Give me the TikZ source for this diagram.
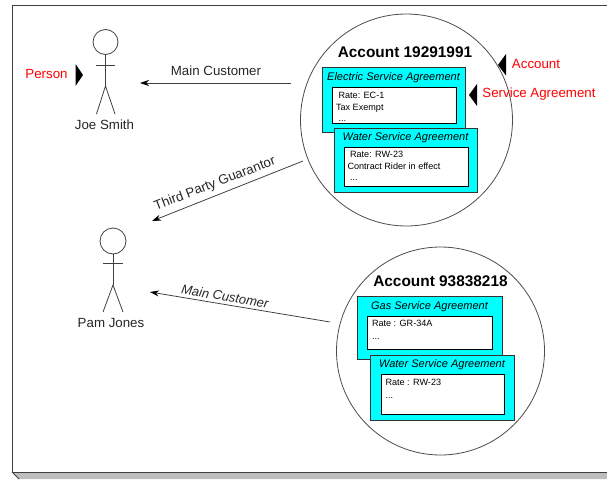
\documentclass[tikz,border=0pt]{standalone}
\usepackage{fontspec}
\setmainfont{Liberation Sans}
\usepackage{tikz}
\definecolor{agrcyan}{RGB}{0,255,255}
\definecolor{framegray}{RGB}{190,190,190}
\usetikzlibrary{arrows.meta}
\usetikzlibrary{positioning}
\usetikzlibrary{calc}

\begin{document}
\begin{tikzpicture}[x=1pt,y=-1pt]
        \tikzset{every node/.style={inner sep=0pt, outer sep=0pt},
                >={Stealth[black,length=9pt,width=6pt]},
                acct/.style={circle, draw=black!70, line width=.8pt, minimum size=#1},
                agrbox/.style={draw=black!80, line width=.9pt, fill=agrcyan, anchor=north west},
                ratebox/.style={draw=black, line width=.9pt, fill=white, anchor=north west},
                limb/.style={draw=black!75, line width=.8pt},
                conn/.style={draw=black!75, line width=.8pt, ->},
                lbl/.style={font=\fontsize{13.3}{15}\selectfont, text=black!85},
                title/.style={font=\bfseries\fontsize{15.4}{17}\selectfont},
                agrtitle/.style={font=\itshape\fontsize{11}{13}\selectfont},
                body/.style={font=\fontsize{9.1}{11.5}\selectfont, align=left, anchor=north west},
                redlbl/.style={font=\fontsize{13.3}{15}\selectfont, text=red},
                marker/.style={fill=black}}

        \useasboundingbox (0,0) rectangle (607,479);

        % page with its shadow
        \fill[framegray] (12,472) -- (19,479) -- (607,479) -- (607,472) -- cycle;
        \draw[black!75, line width=1pt] (607,5.5) -- (12,5.5) -- (12,472) -- (607,472);
        \draw[black!75, line width=.8pt] (12,472) -- (19,479);

        % people
        \node[circle, limb, minimum size=25pt] (joehead) at (105.5,42) {};
        \coordinate (joehip) at (105.5,86);
        \coordinate (joefootl) at (96.5,114);
        \coordinate (joefootr) at (115,114);
        \draw[limb] (joehead.south) -- (joehip);
        \draw[limb] (95.5,65) -- (115,65);
        \draw[limb] (joefootl) -- (joehip) -- (joefootr);
        \node[lbl] (joe) at (104.5,124.5) {Joe Smith};

        \node[circle, limb, minimum size=26pt] (pamhead) at (113,241) {};
        \coordinate (pamhip) at (113,285);
        \coordinate (pamfootl) at (103,312);
        \coordinate (pamfootr) at (123,312);
        \draw[limb] (pamhead.south) -- (pamhip);
        \draw[limb] (102.5,263.5) -- (122.5,263.5);
        \draw[limb] (pamfootl) -- (pamhip) -- (pamfootr);
        \node[lbl] (pam) at (111,323) {Pam Jones};

        % accounts
        \node[acct=212pt] (acct1) at (406.5,120) {};
        \node[title] (acct1t) at (405,52) {Account 19291991};
        \node[agrbox, minimum width=143pt, minimum height=65pt] (esa) at (322,67) {};
        \node[agrtitle] (esat) at (393.5,77.5) {Electric Service Agreement};
        \node[ratebox, minimum width=124pt, minimum height=36pt] (esab) at (332,87) {};
        \node[body] (esax) at (336,92.5) {\ Rate: EC-1\\Tax Exempt\\\ ...};
        \node[agrbox, minimum width=143pt, minimum height=64pt] (wsa) at (334,128) {};
        \node[agrtitle] (wsat) at (405.5,137.5) {Water Service Agreement};
        \node[ratebox, minimum width=124pt, minimum height=39pt] (wsab) at (344,147) {};
        \node[body] (wsax) at (347.5,151.5) {\ Rate: RW-23\\Contract Rider in effect\\\ ...};

        \node[acct=208pt] (acct2) at (440.5,351) {};
        \node[title] (acct2t) at (440.5,281) {Account 93838218};
        \node[agrbox, minimum width=145pt, minimum height=63pt] (gsa) at (357.5,296) {};
        \node[agrtitle] (gsat) at (429.5,306.5) {Gas Service Agreement};
        \node[ratebox, minimum width=125pt, minimum height=33pt] (gsab) at (367.5,316) {};
        \node[body] (gsax) at (372,320.5) {Rate : GR-34A\\[1.5pt]...};
        \node[agrbox, minimum width=144pt, minimum height=65pt] (wsb) at (370,355.5) {};
        \node[agrtitle] (wsbt) at (442,365) {Water Service Agreement};
        \node[ratebox, minimum width=123pt, minimum height=40pt] (wsbb) at (381,374.5) {};
        \node[body] (wsbx) at (385.5,379.5) {Rate : RW-23\\[1.5pt]...};

        % relations
        \coordinate (c1a) at (291,83);
        \coordinate (c1b) at (140,83);
        \coordinate (c2a) at (303,161);
        \coordinate (c2b) at (152,221);
        \coordinate (c3a) at (330,322);
        \coordinate (c3b) at (150,292);
        \draw[conn] (c1a) -- (c1b);
        \draw[conn] (c2a) -- (c2b);
        \draw[conn] (c3a) -- (c3b);
        \node[lbl] (c1l) at (216,71) {Main Customer};
        \node[lbl, rotate=21] (c2l) at (215,184) {Third Party Guarantor};
        \node[lbl, rotate=-10, font=\itshape\fontsize{13}{15}\selectfont] (c3l) at (225,296.5) {Main Customer};

        % red callouts
        \node[redlbl] (personl) at (46.5,74) {Person};
        \fill[marker] (75.5,64) -- (83,75) -- (75.5,86) -- cycle;
        \node[redlbl] (acctl) at (536,64) {Account};
        \fill[marker] (506,54) -- (498,65) -- (506,75.5) -- cycle;
        \node[redlbl] (sal) at (539,94.5) {Service Agreement};
        \fill[marker] (477,84) -- (469,95) -- (477,106) -- cycle;
\end{tikzpicture}
\end{document}
